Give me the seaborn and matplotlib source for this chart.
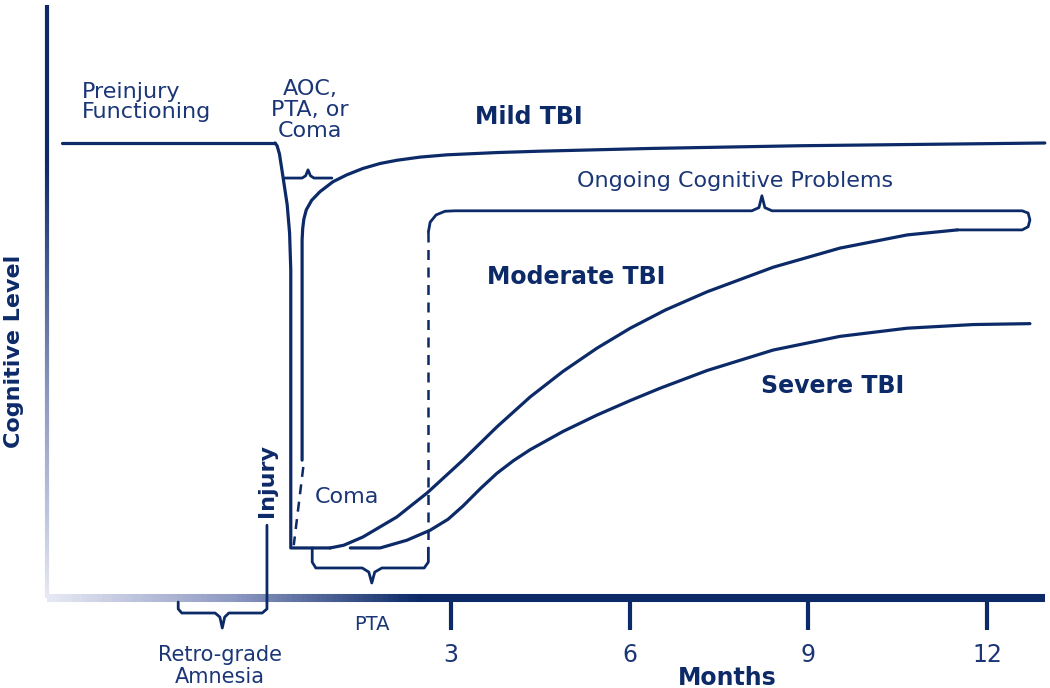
import numpy as np
import pandas as pd
import matplotlib
matplotlib.use('Agg')
import matplotlib.pyplot as plt
import seaborn as sns
from matplotlib.collections import LineCollection
from matplotlib.colors import LinearSegmentedColormap

# months on x, cognitive level on y (preinjury level = 100)
pre_x = [-3.53, 0.045]
pre_y = [100, 100]

# outer drop from preinjury down to the floor, then along the floor
drop_x = [0.045, 0.08, 0.12, 0.18, 0.25, 0.29, 0.31, 0.31, 0.97]
drop_y = [100, 99.4, 97.6, 92.5, 86.4, 80.2, 72.1, 11.0, 11.0]

mild_x = [0.50, 0.50, 0.51, 0.53, 0.57, 0.66, 0.80, 1.02, 1.25, 1.52, 1.81, 2.09, 2.48,
          2.93, 3.77, 4.49, 6.34, 8.86, 12.97]
mild_y = [30.3, 78.7, 81.2, 83.3, 85.3, 87.4, 89.3, 91.5, 93.0, 94.4, 95.5, 96.2, 96.9,
          97.4, 97.9, 98.2, 98.8, 99.4, 100.0]

moderate_x = [0.97, 1.20, 1.52, 2.09, 2.60, 3.20, 3.77, 4.33, 4.88, 5.45, 6.01, 6.60,
              7.30, 8.41, 9.53, 10.66, 11.50]
moderate_y = [11.0, 11.6, 13.4, 17.8, 23.1, 30.3, 37.6, 44.2, 49.8, 54.9, 59.3, 63.3,
              67.3, 72.7, 76.9, 79.8, 80.9]

severe_x = [1.31, 1.81, 2.26, 2.65, 2.95, 3.20, 3.49, 3.77, 4.05, 4.33, 4.88, 5.45,
            6.01, 6.51, 7.30, 8.41, 9.53, 10.66, 11.77, 12.72]
severe_y = [11.0, 11.0, 12.7, 14.9, 17.3, 20.2, 24.0, 27.4, 30.2, 32.6, 36.6, 40.2,
            43.4, 46.1, 50.0, 54.5, 57.5, 59.3, 60.1, 60.3]

# dashed guides
coma_dash_x = [0.52, 0.36]
coma_dash_y = [28.8, 11.6]
pta_dash_x = [2.62, 2.62]
pta_dash_y = [80.4, 11.0]

# braces
ongoing_x = [2.62, 2.65, 2.75, 2.90, 3.07, 8.05, 8.17, 8.22, 8.27, 8.39, 12.59, 12.69,
             12.72, 12.69, 12.59, 11.50]
ongoing_y = [80.4, 82.6, 84.2, 85.0, 85.1, 85.1, 85.8, 88.4, 85.8, 85.1, 85.1, 84.6,
             83.1, 81.6, 80.9, 80.9]
aoc_x = [0.21, 0.50, 0.56, 0.60, 0.64, 0.70, 1.00]
aoc_y = [92.3, 92.3, 92.8, 94.1, 92.8, 92.3, 92.3]
pta_x = [0.67, 0.67, 0.73, 1.51, 1.62, 1.67, 1.72, 1.84, 2.55, 2.62, 2.62]
pta_y = [11.0, 7.9, 6.6, 6.6, 5.7, 3.3, 5.7, 6.6, 6.6, 7.9, 11.0]
retro_x = [-1.58, -1.58, -1.52, -0.96, -0.88, -0.84, -0.80, -0.73, -0.17, -0.09, -0.09]
retro_y = [-0.9, -2.4, -3.3, -3.3, -4.2, -6.6, -4.2, -3.3, -3.3, -2.4, 16.0]

month_ticks = [3, 6, 9, 12]
month_labels = ['3', '6', '9', '12']

navy = '#0c2a68'
text_navy = '#1b3677'

sns.set_theme(style='white')
plt.rcParams['font.family'] = ['DejaVu Sans']

fig = plt.figure(figsize=(10.5, 6.88), dpi=100)
ax = fig.add_axes([0, 0, 1, 1])
ax.set_xlim(-4.572, 13.057)
ax.set_ylim(-19.78, 131.43)
ax.axis('off')

# gradient axes
fade = LinearSegmentedColormap.from_list('fade', ['#e6e8f3', '#8e99c2', navy])
ys = np.linspace(0, 130.3, 120)
seg = np.array([[[-3.79, ys[i]], [-3.79, ys[i + 1]]] for i in range(len(ys) - 1)])
lc = LineCollection(seg, cmap=fade, linewidths=3.0, capstyle='butt')
lc.set_array(np.clip(ys[:-1] / 95.0, 0, 1) ** 0.9)
ax.add_collection(lc)

xs = np.linspace(-3.79, 12.97, 200)
seg = np.array([[[xs[i], 0], [xs[i + 1], 0]] for i in range(len(xs) - 1)])
lc = LineCollection(seg, cmap=fade, linewidths=5.8, capstyle='butt')
lc.set_array(np.clip((xs[:-1] + 3.79) / 6.2, 0, 1))
ax.add_collection(lc)

for t in month_ticks:
    ax.plot([t, t], [0, -7.0], color=navy, lw=3.0, solid_capstyle='butt')
for t, lab in zip(month_ticks, month_labels):
    ax.text(t, -12.5, lab, ha='center', va='center', fontsize=17, color=text_navy)

# curves
curves = pd.concat([
    pd.DataFrame({'m': pre_x, 'level': pre_y, 'tbi': 'pre'}),
    pd.DataFrame({'m': drop_x, 'level': drop_y, 'tbi': 'drop'}),
    pd.DataFrame({'m': mild_x, 'level': mild_y, 'tbi': 'mild'}),
    pd.DataFrame({'m': moderate_x, 'level': moderate_y, 'tbi': 'moderate'}),
    pd.DataFrame({'m': severe_x, 'level': severe_y, 'tbi': 'severe'}),
])
sns.lineplot(data=curves, x='m', y='level', units='tbi', estimator=None, sort=False,
             color=navy, lw=2.3, ax=ax)

for bx, by in [(ongoing_x, ongoing_y), (aoc_x, aoc_y), (pta_x, pta_y), (retro_x, retro_y)]:
    ax.plot(bx, by, color=navy, lw=2.0, solid_joinstyle='round')

ax.plot(coma_dash_x, coma_dash_y, color=navy, lw=1.8, dashes=(4, 3))
ax.plot(pta_dash_x, pta_dash_y, color=navy, lw=1.8, dashes=(4, 3))

# labels
ax.text(-3.19, 109, 'Preinjury\nFunctioning', ha='left', va='center', fontsize=16,
        color=text_navy, linespacing=1.0)
ax.text(0.63, 107.3, 'AOC,\nPTA, or\nComa', ha='center', va='center', fontsize=16,
        color=text_navy, linespacing=1.05)
ax.text(4.30, 105.7, 'Mild TBI', ha='center', va='center', fontsize=17,
        fontweight='bold', color=navy)
ax.text(7.77, 91.6, 'Ongoing Cognitive Problems', ha='center', va='center', fontsize=16,
        color=text_navy)
ax.text(5.10, 70.5, 'Moderate TBI', ha='center', va='center', fontsize=17,
        fontweight='bold', color=navy)
ax.text(9.41, 46.6, 'Severe TBI', ha='center', va='center', fontsize=17,
        fontweight='bold', color=navy)
ax.text(1.25, 22.2, 'Coma', ha='center', va='center', fontsize=16, color=text_navy)
ax.text(-0.09, 25.9, 'Injury', ha='center', va='center', rotation=90, fontsize=16,
        fontweight='bold', color=navy)
ax.text(-4.34, 54.1, 'Cognitive Level', ha='center', va='center', rotation=90,
        fontsize=16, fontweight='bold', color=navy)
ax.text(1.67, -5.9, 'PTA', ha='center', va='center', fontsize=14, color=text_navy)
ax.text(-0.88, -15.0, 'Retro-grade\nAmnesia', ha='center', va='center', fontsize=15,
        color=text_navy, linespacing=1.1)
ax.text(7.64, -17.6, 'Months', ha='center', va='center', fontsize=17,
        fontweight='bold', color=navy)

fig.savefig('out.png', dpi=100)
